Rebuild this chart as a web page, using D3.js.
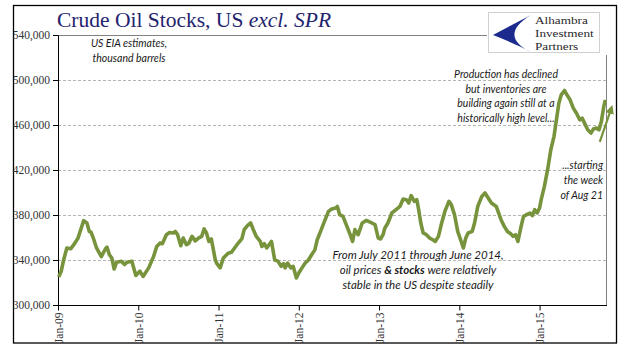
<!DOCTYPE html>
<html>
<head>
<meta charset="utf-8">
<script src="https://cdn.jsdelivr.net/npm/d3@7"></script>
<style>
body { margin: 0; background: #fff; }
.note { font-family: Lato, "Open Sans", sans-serif; font-style: italic; fill: #1a1a1a; }
</style>
</head>
<body>
<script>
// weekly crude stocks (decimal year, thousand barrels)
let years = [
  2009.01, 2009.04, 2009.07, 2009.11, 2009.16, 2009.21, 2009.25, 2009.29, 2009.32, 2009.36, 2009.39, 2009.41, 2009.44,
  2009.48, 2009.54, 2009.59, 2009.61, 2009.64, 2009.67, 2009.70, 2009.73, 2009.79, 2009.83, 2009.86, 2009.92, 2009.97,
  2010.02, 2010.06, 2010.13, 2010.19, 2010.23, 2010.27, 2010.30, 2010.35, 2010.39, 2010.44, 2010.46, 2010.49, 2010.53,
  2010.56, 2010.60, 2010.63, 2010.67, 2010.71, 2010.75, 2010.79, 2010.82, 2010.85, 2010.88, 2010.91, 2010.96, 2010.98,
  2011.02, 2011.06, 2011.12, 2011.16, 2011.23, 2011.29, 2011.32, 2011.36, 2011.40, 2011.43, 2011.47, 2011.52, 2011.54,
  2011.57, 2011.60, 2011.63, 2011.66, 2011.70, 2011.74, 2011.78, 2011.81, 2011.83, 2011.86, 2011.90, 2011.93, 2011.97,
  2012.00, 2012.04, 2012.08, 2012.12, 2012.16, 2012.20, 2012.23, 2012.28, 2012.32, 2012.37, 2012.41, 2012.46, 2012.48,
  2012.51, 2012.55, 2012.60, 2012.64, 2012.67, 2012.70, 2012.74, 2012.79, 2012.84, 2012.91, 2012.95, 2012.99,
  2013.02, 2013.05, 2013.07, 2013.11, 2013.16, 2013.22, 2013.26, 2013.30, 2013.34, 2013.37, 2013.40, 2013.44, 2013.47,
  2013.49, 2013.52, 2013.55, 2013.59, 2013.63, 2013.67, 2013.70, 2013.74, 2013.78, 2013.82, 2013.87, 2013.90, 2013.94, 2013.98,
  2014.03, 2014.05, 2014.08, 2014.11, 2014.16, 2014.19, 2014.23, 2014.28, 2014.32, 2014.36, 2014.40, 2014.46, 2014.52,
  2014.56, 2014.60, 2014.64, 2014.67, 2014.70, 2014.73, 2014.77, 2014.80, 2014.84, 2014.88, 2014.91, 2014.94, 2014.97,
  2015.00, 2015.02, 2015.06, 2015.10, 2015.14, 2015.18, 2015.21, 2015.24, 2015.27, 2015.31, 2015.34, 2015.38, 2015.42,
  2015.46, 2015.50, 2015.53, 2015.56, 2015.60, 2015.64, 2015.67, 2015.71, 2015.74, 2015.77, 2015.80, 2015.82
];
let stocks = [
  325000, 330000, 340000, 350700, 350000, 355000, 359500, 368400, 375000, 373000, 365400, 365000, 359500,
  350700, 343000, 349800, 351500, 344700, 341800, 332000, 338000, 338800, 336000, 338000, 338800, 326300,
  330000, 325400, 333000, 343000, 352000, 355000, 354500, 362500, 364500, 364000, 365400, 362500, 352700,
  359500, 353600, 355000, 361000, 357000, 359500, 361000, 367600, 364000, 356500, 358700, 340000, 336700,
  333000, 341800, 346000, 346800, 353600, 358700, 367000, 370500, 372900, 367600, 361000, 356500, 352000,
  354500, 350700, 353600, 356500, 340000, 339000, 334400, 336700, 333000, 337300, 333000, 334400, 324000,
  328400, 333000, 337300, 340000, 344700, 349000, 358000, 367000, 374300, 383200, 385300, 386200, 387600,
  380300, 378800, 369900, 362500, 356500, 367000, 362500, 372900, 375200, 372900, 371400, 359500,
  358700, 362500, 368000, 372900, 381800, 385300, 387600, 394200, 393600, 390700, 397200, 392100, 393600,
  386200, 372900, 364000, 362500, 359500, 358000, 356500, 361000, 372900, 383200, 392100, 389200, 380300, 365400,
  355100, 350700, 359500, 364000, 365400, 372900, 387600, 396500, 399600, 395100, 390700, 387600, 375800,
  369900, 365400, 363400, 361000, 362500, 356500, 369900, 378800, 380300, 381800, 379400, 384700, 381800,
  386200, 393600, 405400, 420300, 438000, 449900, 464600, 479400, 486800, 490700, 486800, 482400, 475000,
  470500, 464600, 466100, 461700, 455700, 452800, 456400, 457300, 455700, 463200, 476500, 482400
];
let yTicks = [300000, 340000, 380000, 420000, 460000, 500000, 540000];
let xTicks = [2009, 2010, 2011, 2012, 2013, 2014, 2015];
let xLabels = ["Jan-09", "Jan-10", "Jan-11", "Jan-12", "Jan-13", "Jan-14", "Jan-15"];

let w = 641, h = 361;
let mLeft = 58, mRight = 607, mTop = 35, mBottom = 305;
let green = "#77933c";

let svg = d3.select("body").append("svg")
  .attr("width", w).attr("height", h);

// outer frame
svg.append("rect")
  .attr("x", 13.5).attr("y", 5.5).attr("width", 603).attr("height", 337.5)
  .attr("fill", "#fff").attr("stroke", "#000").attr("stroke-width", 1.3);

let x = d3.scaleLinear().domain([2009, 2015.84]).range([mLeft, mRight]);
let y = d3.scaleLinear().domain([300000, 540000]).range([mBottom, mTop]);

// dashed gridlines
svg.append("g").selectAll("line")
  .data(yTicks.slice(1, -1))
  .enter().append("line")
  .attr("x1", mLeft).attr("x2", mRight)
  .attr("y1", d => Math.round(y(d)) + 0.5).attr("y2", d => Math.round(y(d)) + 0.5)
  .attr("stroke", "#b5b5b5").attr("stroke-dasharray", "3,2");

// top and right edge of plot area (broken by the logo)
svg.append("line").attr("x1", mLeft).attr("x2", 487)
  .attr("y1", Math.round(y(540000)) + 0.5).attr("y2", Math.round(y(540000)) + 0.5)
  .attr("stroke", "#808080");
svg.append("line").attr("x1", mRight - 0.5).attr("x2", mRight - 0.5)
  .attr("y1", 55).attr("y2", mBottom)
  .attr("stroke", "#808080");

// y axis
let yAxis = svg.append("g")
  .attr("transform", `translate(${mLeft},0)`)
  .call(d3.axisLeft(y).tickValues(yTicks).tickSize(5).tickPadding(3)
    .tickFormat(d3.format(",")));
yAxis.selectAll("text")
  .attr("font-family", "'Liberation Serif', serif").attr("font-size", 11.5).attr("fill", "#333");

// x axis
let xAxis = svg.append("g")
  .attr("transform", `translate(0,${Math.round(y(300000)) + 0.5})`)
  .call(d3.axisBottom(x).tickValues(xTicks).tickSize(5)
    .tickFormat((d, i) => xLabels[i]));
xAxis.select(".domain").attr("d", `M${mLeft},0H${mRight}`);
xAxis.selectAll("text")
  .attr("font-family", "'Liberation Serif', serif").attr("font-size", 11.5).attr("fill", "#333")
  .attr("transform", "rotate(-90)")
  .attr("text-anchor", "end")
  .attr("x", -7).attr("y", 0).attr("dy", "0.35em");
svg.selectAll(".domain, .tick line").attr("stroke", "#000");

// the series
let line = d3.line()
  .x((d, i) => x(years[i]))
  .y(d => y(d));
svg.append("path")
  .attr("d", line(stocks))
  .attr("fill", "none")
  .attr("stroke", green)
  .attr("stroke-width", 3.6)
  .attr("stroke-linejoin", "round");

// arrow
svg.append("defs").append("marker")
  .attr("id", "head").attr("viewBox", "0 0 10 10")
  .attr("refX", 5).attr("refY", 5)
  .attr("markerWidth", 4).attr("markerHeight", 4)
  .attr("orient", "auto")
  .append("path").attr("d", "M0,0L10,5L0,10z").attr("fill", green);
svg.append("line")
  .attr("x1", x(2015.75)).attr("y1", y(445000))
  .attr("x2", x(2015.89)).attr("y2", y(474000))
  .attr("stroke", green).attr("stroke-width", 2.2)
  .attr("marker-end", "url(#head)");

// title
let title = svg.append("text")
  .attr("x", 57).attr("y", 27)
  .attr("font-family", "'Liberation Serif', Georgia, serif")
  .attr("font-size", 21.5).attr("fill", "#23236e");
title.append("tspan").text("Crude Oil Stocks, US ");
title.append("tspan").attr("font-style", "italic").text("excl. SPR");

// notes
function note(lines, xp, yp, anchor, size, gap) {
  let t = svg.append("text").attr("class", "note")
    .attr("text-anchor", anchor).attr("font-size", size);
  lines.forEach((l, i) => {
    let ts = t.append("tspan").attr("x", xp).attr("y", yp + i * gap);
    if (Array.isArray(l)) {
      l.forEach(p => ts.append("tspan").attr("font-weight", p.b ? "bold" : null).text(p.t));
    } else ts.text(l);
  });
}
note(["US EIA estimates,", "thousand barrels"], 129, 47, "middle", 10.5, 15);
note(["Production has declined", "but inventories are", "building again still at a", "historically high level..."],
  506, 78, "middle", 10.5, 14.6);
note(["...starting", "the week", "of Aug 21"], 603, 169, "end", 10.5, 15);
note(["From July 2011 through June 2014,",
  [{t: "oil prices "}, {t: "& stocks", b: true}, {t: " were relatively"}],
  "stable in the US despite steadily"], 418, 259, "middle", 11.5, 15);

// logo
let logo = svg.append("g");
logo.append("rect").attr("x", 488.5).attr("y", 12.5).attr("width", 111).attr("height", 40)
  .attr("fill", "#fff").attr("stroke", "#d0d0d0");
logo.append("path")
  .attr("d", "M531,15 L493,35 C508,41 520,46 531,52 C512,43 506,30 531,15 Z")
  .attr("fill", "#1b2a8c");
["Alhambra", "Investment", "Partners"].forEach((s, i) => {
  logo.append("text")
    .attr("transform", `translate(535,${24 + i * 13}) scale(1.18,1)`)
    .attr("font-family", "'Liberation Serif', serif").attr("font-size", 11.2)
    .attr("fill", "#2a2a2a").text(s);
});
</script>
</body>
</html>
